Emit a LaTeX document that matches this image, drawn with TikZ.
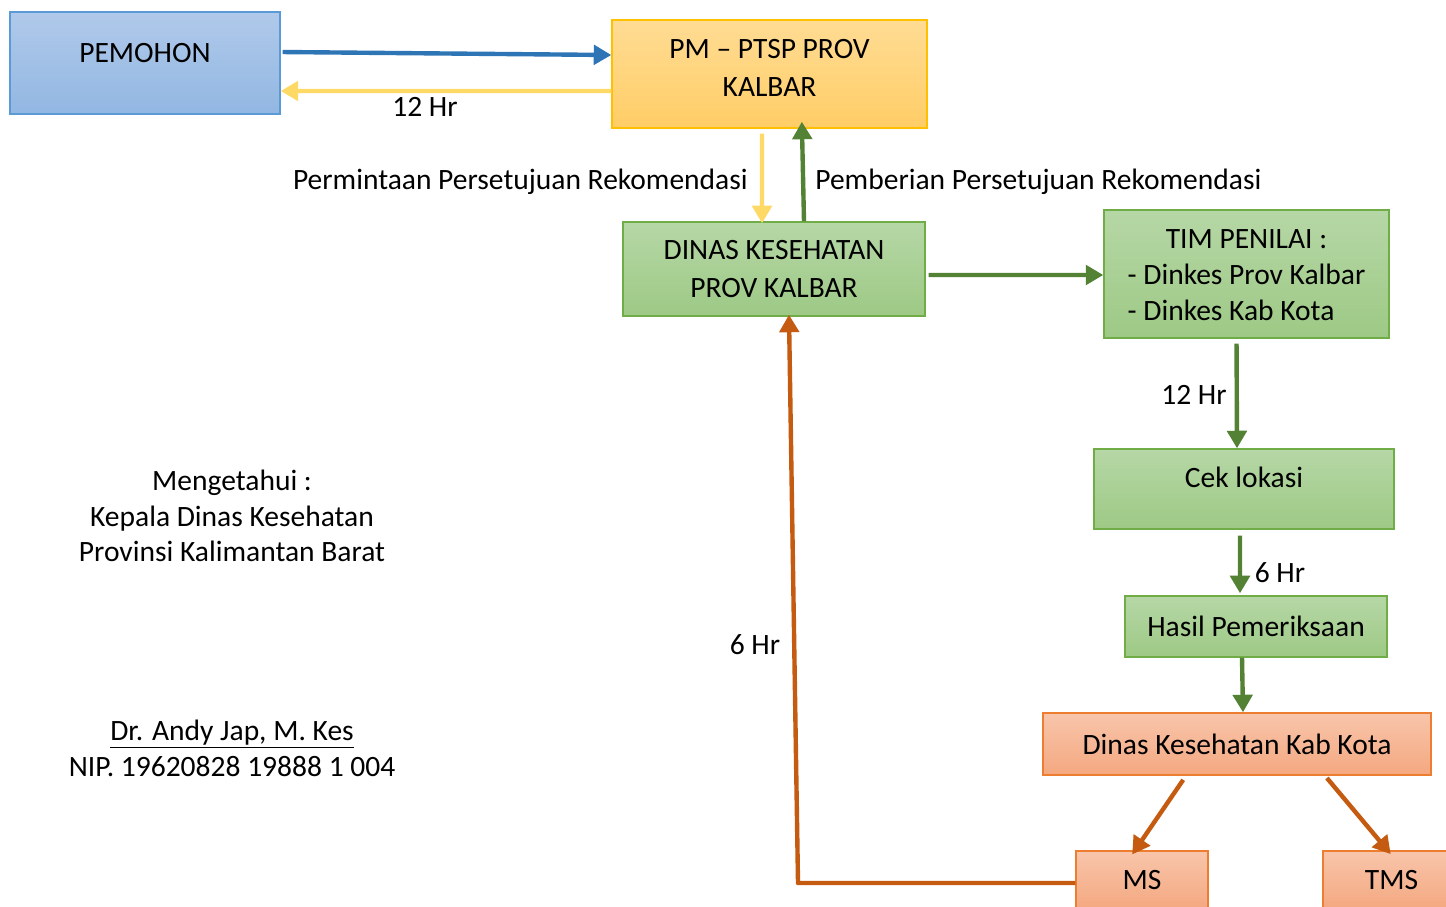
\documentclass[tikz,border=0pt]{standalone}
\usepackage{fontspec}
\setmainfont{Carlito}
\usepackage{tikz}
\usetikzlibrary{arrows.meta}
\definecolor{pemfill}{RGB}{176,201,234}
\definecolor{pemfillb}{RGB}{146,183,226}
\definecolor{pemline}{RGB}{91,155,213}
\definecolor{ptspfill}{RGB}{255,220,148}
\definecolor{ptspfillb}{RGB}{255,205,102}
\definecolor{ptspline}{RGB}{255,192,0}
\definecolor{dinfill}{RGB}{182,215,166}
\definecolor{dinfillb}{RGB}{157,201,133}
\definecolor{dinline}{RGB}{112,173,71}
\definecolor{kabfill}{RGB}{248,197,171}
\definecolor{kabfillb}{RGB}{244,168,128}
\definecolor{kabline}{RGB}{237,125,49}
\definecolor{bluearr}{RGB}{46,117,182}
\definecolor{yelarr}{RGB}{255,217,102}
\definecolor{grnarr}{RGB}{84,130,53}
\definecolor{orgarr}{RGB}{197,90,17}
\tikzstyle{box}=[draw, line width=0.8pt, align=center, inner sep=0pt]
\tikzstyle{pembox}=[box, draw=pemline, top color=pemfill, bottom color=pemfillb]
\tikzstyle{ptspbox}=[box, draw=ptspline, top color=ptspfill, bottom color=ptspfillb]
\tikzstyle{dinbox}=[box, draw=dinline, top color=dinfill, bottom color=dinfillb]
\tikzstyle{kabbox}=[box, draw=kabline, top color=kabfill, bottom color=kabfillb]
\tikzstyle{flow}=[line width=2.5pt, -{Triangle[length=10pt,width=11pt]}]

\begin{document}
\begin{tikzpicture}[x=0.02cm, y=-0.02cm, font=\fontsize{16.8}{20.4}\selectfont]
        \useasboundingbox (0,0) rectangle (1446,906);
        % boxes
        \node[pembox, minimum width=5.4cm, text height=1.0cm, text depth=1.04cm] (pemohon) at (145,63) {PEMOHON};
        \node[ptspbox, minimum width=6.3cm, text height=1.54cm, text depth=0.62cm] (ptsp) at (769.5,74) {PM -- PTSP PROV\\[1.7pt] KALBAR};
        \node[dinbox, minimum width=6.04cm, minimum height=1.88cm] (dinas) at (774,269) {DINAS KESEHATAN\\[1.7pt] PROV KALBAR};
        \node[dinbox, minimum width=5.7cm, minimum height=2.56cm] (tim) at (1246.5,274)
            {\raisebox{-1.7pt}[\height][\depth]{\begin{tabular}{@{}l@{}}\multicolumn{1}{@{}c@{}}{TIM PENILAI :}\\ - Dinkes Prov Kalbar\\ - Dinkes Kab Kota\end{tabular}}};
        \node[dinbox, minimum width=6cm, text height=0.76cm, text depth=0.84cm] (cek) at (1244,489) {Cek lokasi};
        \node[dinbox, minimum width=5.24cm, minimum height=1.22cm] (hasil) at (1256,626.5) {Hasil Pemeriksaan};
        \node[kabbox, minimum width=7.76cm, minimum height=1.24cm] (kab) at (1237,744) {Dinas Kesehatan Kab Kota};
        \node[kabbox, minimum width=2.64cm, minimum height=1.16cm] (ms) at (1142,880) {MS};
        \node[kabbox, minimum width=2.74cm, minimum height=1.16cm] (tms) at (1391.5,880) {TMS};
        % labels
        \node (hr1) at (425,107) {12 Hr};
        \node[anchor=east, inner sep=0pt] (minta) at (748,182) {Permintaan Persetujuan Rekomendasi};
        \node[anchor=west, inner sep=0pt] (beri) at (815,182) {Pemberian Persetujuan Rekomendasi};
        \node (hr2) at (1194,395) {12 Hr};
        \node (hr3) at (1280,573) {6 Hr};
        \node (hr4) at (755,645) {6 Hr};
        \node[align=center] (tahu) at (232,516) {Mengetahui :\\ Kepala Dinas Kesehatan\\ Provinsi Kalimantan Barat};
        \node[align=center] (ttd) at (232,748) {\underline{Dr. Andy Jap, M. Kes}\\ NIP. 19620828 19888 1 004};
        % arrows
        \draw[flow, bluearr, shorten <=0.04cm] ([yshift=0.22cm]pemohon.east) -- ([yshift=0.38cm]ptsp.west);
        \draw[flow, yelarr] ([yshift=-0.34cm]ptsp.west) -- ([yshift=-0.56cm]pemohon.east);
        \draw[flow, yelarr, shorten <=0.1cm, shorten >=-0.04cm] ([xshift=-0.15cm]ptsp.south) -- ([xshift=-0.24cm]dinas.north);
        \draw[flow, grnarr, shorten >=-0.14cm] ([xshift=0.6cm]dinas.north) -- ([xshift=0.65cm]ptsp.south);
        \draw[flow, grnarr, shorten <=0.06cm] ([yshift=-0.12cm]dinas.east) -- ([yshift=-0.02cm]tim.west);
        \draw[flow, grnarr, shorten <=0.1cm] ([xshift=-0.2cm]tim.south) -- ([xshift=-0.14cm]cek.north);
        \draw[flow, grnarr, shorten <=0.12cm, shorten >=0.04cm] ([xshift=-0.08cm]cek.south) -- ([xshift=-0.32cm]hasil.north);
        \draw[flow, grnarr] ([xshift=-0.28cm]hasil.south) -- ([xshift=0.12cm]kab.north);
        \draw[flow, orgarr, shorten <=0.1cm, shorten >=-0.1cm] ([xshift=-1.02cm]kab.south) -- ([xshift=-0.14cm]ms.north);
        \draw[flow, orgarr, shorten <=0.06cm, shorten >=-0.1cm] ([xshift=1.76cm]kab.south) -- ([xshift=-0.08cm]tms.north);
        \coordinate (bend) at (798,883);
        \draw[flow, orgarr, line join=round, shorten >=-0.04cm] ([yshift=-0.06cm]ms.west) -- (bend) -- ([xshift=0.3cm]dinas.south);
\end{tikzpicture}
\end{document}
